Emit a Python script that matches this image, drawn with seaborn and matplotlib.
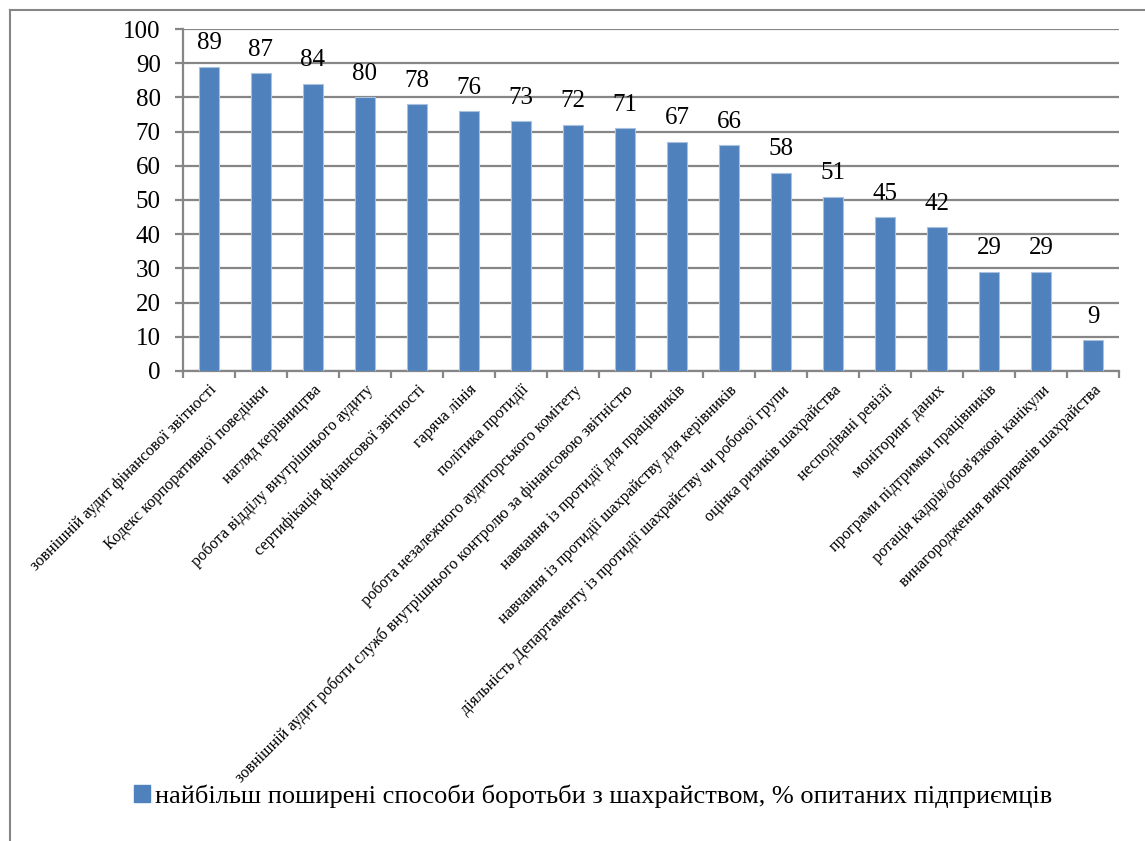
import numpy as np
import pandas as pd
import seaborn as sns
import matplotlib.pyplot as plt
from matplotlib.lines import Line2D
from matplotlib.patches import Patch

methods = [
    "зовнішній аудит фінансової звітності",
    "Кодекс корпоративної поведінки",
    "нагляд керівництва",
    "робота відділу внутрішнього аудиту",
    "сертифікація фінансової звітності",
    "гаряча лінія",
    "політика протидії",
    "робота незалежного аудиторського комітету",
    "зовнішній аудит роботи служб внутрішнього контролю за фінансовою звітністю",
    "навчання із протидії для працівників",
    "навчання із протидії шахрайству для керівників",
    "діяльність Департаменту із протидії шахрайству чи робочої групи",
    "оцінка ризиків шахрайства",
    "несподівані ревізії",
    "моніторинг даних",
    "програми підтримки працівників",
    "ротація кадрів/обов'язкові канікули",
    "винагородження викривачів шахрайства",
]
percent = [89, 87, 84, 80, 78, 76, 73, 72, 71, 67, 66, 58, 51, 45, 42, 29, 29, 9]
series_name = "найбільш поширені способи боротьби з шахрайством, % опитаних підприємців"
y_ticks = [0, 10, 20, 30, 40, 50, 60, 70, 80, 90, 100]

bar_color = "#4F81BD"
grid_color = "#868686"

plt.rcParams['font.family'] = ['Liberation Serif', 'DejaVu Serif']

df = pd.DataFrame({"method": methods, "percent": percent})

fig = plt.figure(figsize=(11.45, 8.41), dpi=100)
ax = fig.add_axes([0.1598, 0.5589, 0.8175, 0.4066])

sns.barplot(data=df, x="method", y="percent", color=bar_color, width=0.385,
            saturation=1, edgecolor="#a9c1df", linewidth=0.8, ax=ax, zorder=3)

ax.bar_label(ax.containers[0], fmt="%d", padding=9, fontsize=18)

ax.set_ylim(0, 100)
ax.set_yticks(y_ticks)
ax.set_xlim(-0.5, len(methods) - 0.5)
ax.set_xlabel("")
ax.set_ylabel("")
ax.yaxis.grid(True, color=grid_color, linewidth=1.6, zorder=0)
ax.set_axisbelow(True)

for side in ["top", "right"]:
    ax.spines[side].set_visible(False)
for side in ["left", "bottom"]:
    ax.spines[side].set_color(grid_color)
    ax.spines[side].set_linewidth(1.6)

ax.tick_params(axis="y", labelsize=18, length=6, width=1.6, color=grid_color, pad=10)
ax.set_xticks(np.arange(len(methods)))
ax.set_xticks(np.arange(len(methods) + 1) - 0.5, minor=True)
ax.tick_params(axis="x", which="major", length=0, pad=8)
ax.tick_params(axis="x", which="minor", length=5, width=1.6, color=grid_color)
ax.set_xticklabels(methods, rotation=45, ha="right", va="top",
                   rotation_mode="anchor", fontsize=11.7)

handle = Patch(facecolor=bar_color, edgecolor=bar_color)
fig.legend([handle], [series_name], loc="center", bbox_to_anchor=(0.518, 0.053),
           frameon=False, fontsize=19, handlelength=0.6, handleheight=0.6,
           handletextpad=0.2)

# outer chart border (left and top)
fig.add_artist(Line2D([10 / 1145, 10 / 1145], [0, 1 - 10 / 841], color=grid_color, linewidth=1.5))
fig.add_artist(Line2D([10 / 1145, 1], [1 - 10 / 841, 1 - 10 / 841], color=grid_color, linewidth=1.5))

fig.savefig("out.png", dpi=100)
